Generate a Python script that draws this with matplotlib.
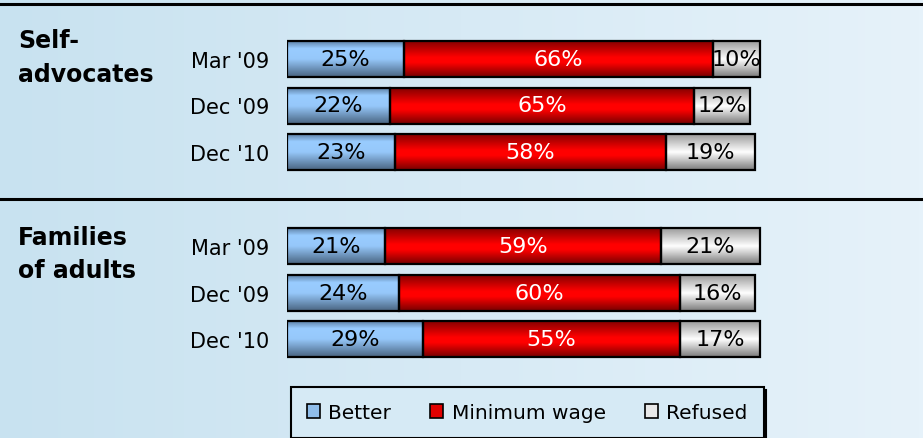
import numpy as np
import matplotlib
matplotlib.use('Agg')
import matplotlib.pyplot as plt
from matplotlib.colors import LinearSegmentedColormap, to_rgb
from matplotlib.patches import Patch

plt.rcParams['font.family'] = ['DejaVu Sans']

# data
periods = ["Mar '09", "Dec '09", "Dec '10"]
groups = [['Self-', 'advocates'], ['Families', 'of adults']]
better = [[25, 22, 23], [21, 24, 29]]
min_wage = [[66, 65, 58], [59, 60, 55]]
refused = [[10, 12, 19], [21, 16, 17]]
series_names = ['Better', 'Minimum wage', 'Refused']

W, H = 923, 439
fig = plt.figure(figsize=(W / 100, H / 100), dpi=100)

# background gradient
bg = fig.add_axes([0, 0, 1, 1], zorder=-5)
c0, c1 = np.array(to_rgb('#c8e2f0')), np.array(to_rgb('#e6f2fa'))
t = np.linspace(0, 1, 256)
grad = c0[None, :] * (1 - t[:, None]) + c1[None, :] * t[:, None]
bg.imshow(grad[None, :, :], aspect='auto', extent=(0, 1, 0, 1))
bg.set_xlim(0, 1)
bg.set_ylim(0, 1)
bg.axis('off')
# separator lines
for yp in [5, 200]:
    bg.axhline(1 - yp / H, color='black', lw=2.2)

grad_stops = {
    'Better': [(0, '#5f83a8'), (0.2, '#99ccff'), (0.5, '#96c8fa'), (1, '#4a6582')],
    'Minimum wage': [(0, '#870000'), (0.45, '#ff0000'), (0.6, '#ff0000'), (1, '#780000')],
    'Refused': [(0, '#9c9c9c'), (0.5, '#ffffff'), (1, '#7c7c7c')],
}
text_col = {'Better': 'black', 'Minimum wage': 'white', 'Refused': 'black'}

# axes per group (pixel layout)
x_left, px_per_pct = 287, 4.68
xmax = 102
row_px = 46.5
centers = [106.5, 293.5]
bar_h = 36 / row_px
title_baselines = [[48, 82], [245, 278]]

for gi in range(2):
    top = centers[gi] - 1.5 * row_px
    ax = fig.add_axes([x_left / W, 1 - (top + 3 * row_px) / H,
                       xmax * px_per_pct / W, 3 * row_px / H])
    ax.patch.set_alpha(0)
    ypos = np.array([2, 1, 0])
    left = np.zeros(3)
    for name, vals in zip(series_names, [better[gi], min_wage[gi], refused[gi]]):
        cmap = LinearSegmentedColormap.from_list(name, grad_stops[name])
        bars = ax.barh(ypos, vals, left=left, height=bar_h, color='none',
                       edgecolor='black', linewidth=1.6, zorder=3)
        for rect, v, l, y in zip(bars, vals, left, ypos):
            im = ax.imshow(np.linspace(0, 1, 64)[:, None], cmap=cmap, aspect='auto',
                           origin='upper', interpolation='bilinear',
                           extent=(l, l + v, y - bar_h / 2, y + bar_h / 2), zorder=2)
            im.set_clip_path(rect)
            ax.text(l + v / 2, y, f'{v}%', ha='center', va='center',
                    fontsize=16, color=text_col[name], zorder=4)
        left = left + np.array(vals)
    ax.set_xlim(0, xmax)
    ax.set_ylim(-0.5, 2.5)
    ax.set_yticks(ypos)
    ax.set_yticklabels(periods, fontsize=15)
    ax.tick_params(axis='y', length=0, pad=13)
    ax.set_xticks([])
    for s in ax.spines.values():
        s.set_visible(False)

    for line, yb in zip(groups[gi], title_baselines[gi]):
        fig.text(18 / W, 1 - yb / H, line, ha='left', va='baseline',
                 fontsize=17, fontweight='bold')

# legend
handles = [Patch(facecolor='#8fbdea', edgecolor='black', lw=1.2),
           Patch(facecolor='#e00000', edgecolor='black', lw=1.2),
           Patch(facecolor='#e8e8e8', edgecolor='black', lw=1.2)]
leg = fig.legend(handles, series_names, loc='upper left',
                 bbox_to_anchor=(291 / W, 1 - 388 / H), ncol=3, fontsize=14.5,
                 frameon=True, fancybox=False, borderpad=0.8, handlelength=0.65,
                 handleheight=0.65, handletextpad=0.4, columnspacing=1.95,
                 borderaxespad=0, shadow={'color': 'black', 'alpha': 1})
leg.get_frame().set_edgecolor('black')
leg.get_frame().set_linewidth(1.5)
leg.get_frame().set_facecolor('#d6eaf5')

fig.savefig('out.png', dpi=100)
